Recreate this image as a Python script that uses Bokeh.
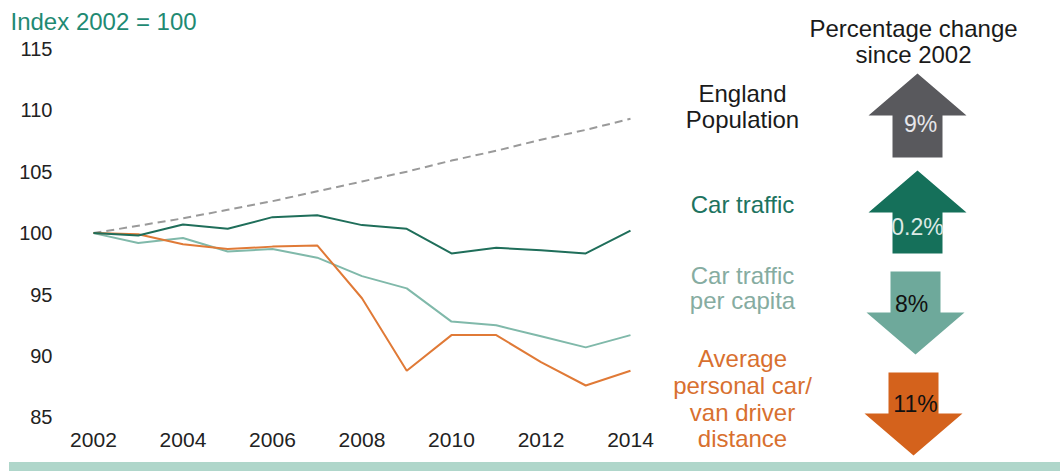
from bokeh.plotting import figure
from bokeh.models import Range1d, FixedTicker, ColumnDataSource, Div
from bokeh.layouts import row, column
from bokeh.embed import file_html
from bokeh.resources import INLINE
from bokeh.core.properties import value

# ---------------- data ----------------
years = list(range(2002, 2015))
population = [100, 100.6, 101.2, 101.9, 102.6, 103.4, 104.2, 105.0, 105.9, 106.7, 107.6, 108.4, 109.3]
car_traffic = [100, 99.8, 100.7, 100.35, 101.3, 101.45, 100.65, 100.35, 98.35, 98.8, 98.6, 98.35, 100.2]
per_capita = [100, 99.2, 99.6, 98.5, 98.7, 98.0, 96.5, 95.5, 92.8, 92.5, 91.6, 90.7, 91.7]
driver_distance = [100, 99.9, 99.1, 98.7, 98.9, 99.0, 94.7, 88.8, 91.7, 91.7, 89.5, 87.6, 88.8]
y_ticks = [85, 90, 95, 100, 105, 110, 115]
x_ticks = [2002, 2004, 2006, 2008, 2010, 2012, 2014]

series_names = ["England Population", "Car traffic", "Car traffic per capita",
                "Average personal car/van driver distance"]
label_lines = [["England", "Population"], ["Car traffic"], ["Car traffic", "per capita"],
               ["Average", "personal car/", "van driver", "distance"]]
pct_text = ["9%", "0.2%", "8%", "11%"]
pct_up = [True, True, False, False]

# ---------------- styles ----------------
FONT = "Liberation Sans"
c_pop_line = "#9a9a9a"
c_car = "#1f6e5a"
c_cap = "#80b9aa"
c_dist = "#e07a37"
arrow_colors = ["#59595d", "#15705a", "#6ea99b", "#d4621c"]
label_colors = ["#1a1a1a", "#1d7360", "#86aca1", "#d8702f"]
pct_colors = ["#e6e6ea", "#dce9e5", "#111111", "#111111"]

# ---------------- left chart ----------------
p = figure(width=660, height=462,
           x_range=Range1d(2001.263, 2014.559), y_range=Range1d(84.1, 116.08),
           output_backend="svg", toolbar_location=None,
           min_border_left=60, min_border_right=5, min_border_top=35, min_border_bottom=34)
p.frame_align = False
p.outline_line_color = None
p.grid.visible = False
p.background_fill_color = "white"
p.border_fill_color = "white"
p.xaxis.ticker = FixedTicker(ticks=x_ticks)
p.yaxis.ticker = FixedTicker(ticks=y_ticks)
p.axis.axis_line_color = None
p.axis.major_tick_line_color = None
p.axis.minor_tick_line_color = None
p.axis.major_tick_out = 0
p.axis.major_tick_in = 0
p.axis.major_label_text_font = FONT
p.axis.major_label_text_color = "#222222"
p.xaxis.major_label_text_font_size = "21px"
p.yaxis.major_label_text_font_size = "20px"
p.xaxis.major_label_standoff = 4
p.yaxis.major_label_standoff = 8

p.title.text = "Index 2002 = 100"
p.title.align = "left"
p.title.offset = -50
p.title.standoff = 2
p.title.text_font = FONT
p.title.text_font_size = "24px"
p.title.text_font_style = "normal"
p.title.text_color = "#1f8a73"

p.line(years, population, line_color=c_pop_line, line_width=2, line_dash="8 5")
p.line(years, per_capita, line_color=c_cap, line_width=2)
p.line(years, driver_distance, line_color=c_dist, line_width=2)
p.line(years, car_traffic, line_color=c_car, line_width=2)

# ---------------- right panel ----------------
q = figure(width=400, height=462, x_range=Range1d(660, 1060), y_range=Range1d(462, 0),
           output_backend="svg", toolbar_location=None, min_border=0)
q.frame_align = False
q.axis.visible = False
q.grid.visible = False
q.outline_line_color = None

# arrows
arrow_cx = [917, 917, 915, 913]
arrow_tip = [73, 170, 354, 455]
arrow_back = [157, 253, 271, 372]
head_len, head_half, shaft_half = 42, 49, 25
axs, ays = [], []
for cx, tip, back, up in zip(arrow_cx, arrow_tip, arrow_back, pct_up):
    s = 1 if up else -1
    base = tip + s * head_len
    axs.append([cx, cx + head_half, cx + shaft_half, cx + shaft_half,
                cx - shaft_half, cx - shaft_half, cx - head_half])
    ays.append([tip, base, base, back, back, base, base])
q.patches(axs, ays, fill_color=arrow_colors, line_color=None)

# texts
tx, ty, tt, tc = [], [], [], []
header = ["Percentage change", "since 2002"]
for t, y in zip(header, [28, 54]):
    tx.append(913); ty.append(y); tt.append(t); tc.append("#1a1a1a")
label_y = [[93, 119], [204], [275, 300], [358, 385, 412, 438]]
for lines, ys, col in zip(label_lines, label_y, label_colors):
    for t, y in zip(lines, ys):
        tx.append(742); ty.append(y); tt.append(t); tc.append(col)
src = ColumnDataSource(dict(x=tx, y=ty, text=tt, color=tc))
q.text(x="x", y="y", text="text", text_color="color", source=src,
       text_font=value(FONT), text_font_size="24px",
       text_align="center", text_baseline="middle")

pct_x = [920, 917, 911, 915]
pct_y = [123, 226, 303, 403]
src2 = ColumnDataSource(dict(x=pct_x, y=pct_y, text=pct_text, color=pct_colors))
q.text(x="x", y="y", text="text", text_color="color", source=src2,
       text_font=value(FONT), text_font_size="23px",
       text_align="center", text_baseline="middle")

band = Div(width=1051, height=9, margin=(0, 0, 0, 9),
           styles={"background-color": "#afd6ca"})
layout = column(row(p, q), band)

open("out.html", "w").write(file_html(layout, INLINE))
